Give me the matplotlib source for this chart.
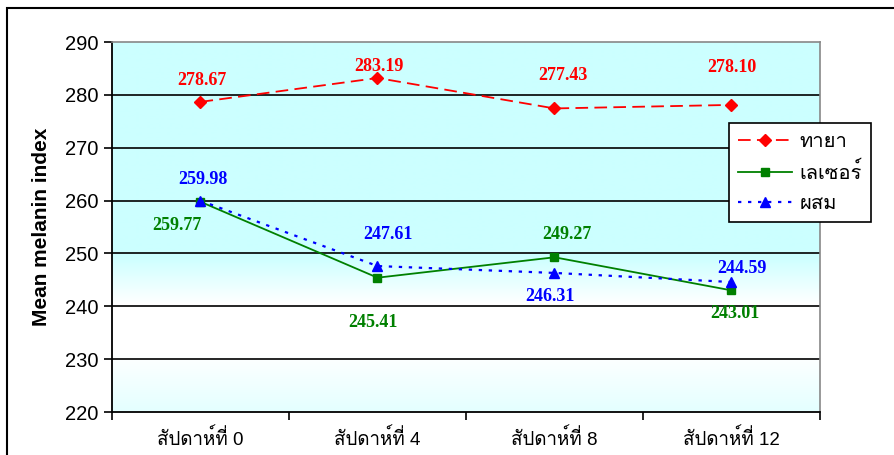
import matplotlib
matplotlib.use("Agg")
import matplotlib.pyplot as plt
from matplotlib import font_manager
from matplotlib.ft2font import FT2Font
from matplotlib.colors import to_rgb
from matplotlib.patches import Rectangle
import numpy as np

# ---- data ----
weeks = ["สัปดาห์ที่ 0", "สัปดาห์ที่ 4", "สัปดาห์ที่ 8", "สัปดาห์ที่ 12"]
series_names = ["ทายา", "เลเซอร์", "ผสม"]
drug = [278.67, 283.19, 277.43, 278.10]
laser = [259.77, 245.41, 249.27, 243.01]
mixed = [259.98, 247.61, 246.31, 244.59]
y_ticks = [220, 230, 240, 250, 260, 270, 280, 290]

# label offsets from each point, in pixels (dx right, dy up)
drug_off = [(1, 21), (1, 11), (8, 33), (0, 37)]
laser_off = [(-24, -24), (-5, -45), (12, 23), (3, -23)]
mixed_off = [(2, 21), (10, 32), (-5, -24), (10, 14)]

PREFERRED_THAI = ["Loma", "Waree", "Garuda", "Umpush", "Sawasdee",
                  "Noto Sans Thai", "Noto Sans Thai UI", "Norasi", "Kinnari"]


def find_thai_fonts():
    names = []
    for path in font_manager.findSystemFonts():
        try:
            f = FT2Font(path)
            cmap = f.get_charmap()
            if 0x0E17 in cmap and 0x0E2A in cmap:
                names.append(font_manager.FontProperties(fname=path).get_name())
        except Exception:
            pass
    names = list(dict.fromkeys(names))
    ranked = [n for n in PREFERRED_THAI if n in names]
    ranked += [n for n in names if n not in ranked and "Mono" not in n
               and "Typo" not in n and "Typist" not in n]
    ranked += [n for n in names if n not in ranked]
    return ranked


thai = find_thai_fonts()
thai_family = ["Liberation Sans"] + thai + ["DejaVu Sans"]

fig = plt.figure(figsize=(8.95, 4.55), dpi=100)
fig.patch.set_facecolor("white")
ax = fig.add_axes([112 / 895, 43 / 455, 708 / 895, 370 / 455])

# outer chart frame
fig.patches.append(Rectangle((7 / 895, -0.1), 1.2, (455 - 8) / 455 + 0.1,
                             transform=fig.transFigure, fill=False,
                             edgecolor="black", linewidth=1.5, zorder=0))

x = np.arange(len(weeks))
ax.set_xlim(-0.5, len(weeks) - 0.5)
ax.set_ylim(220, 290)

# plot-area gradient fill
ys = np.linspace(220, 290, 400)
stops_y = [220, 231, 240.5, 249.5, 290]
cyan = np.array(to_rgb("#CCFFFF"))
light = np.array(to_rgb("#E4FFFF"))
white = np.array([1.0, 1.0, 1.0])
stops_c = [light, white, white, cyan, cyan]
img = np.zeros((len(ys), 1, 3))
for ch in range(3):
    img[:, 0, ch] = np.interp(ys, stops_y, [c[ch] for c in stops_c])
ax.imshow(img, extent=[-0.5, len(weeks) - 0.5, 220, 290], origin="lower",
          aspect="auto", zorder=0, interpolation="bilinear")

for yv in y_ticks[1:-1]:
    ax.axhline(yv, color="black", linewidth=1.2, zorder=1)

l1, = ax.plot(x, drug, color="#FF0000", linestyle=(0, (7, 3.5)), linewidth=1.3,
              marker="D", markersize=6, label=series_names[0], zorder=3)
l2, = ax.plot(x, laser, color="#008000", linestyle="-", linewidth=1.3,
              marker="s", markersize=6, label=series_names[1], zorder=3)
l3, = ax.plot(x, mixed, color="#0000FF", linestyle=(0, (1.5, 3)), linewidth=1.6,
              marker="^", markersize=7, label=series_names[2], zorder=4)

lab_font = dict(family="Liberation Serif", weight="bold", fontsize=13)


def put_labels(vals, offs, color):
    for xi, v, (dx, dy) in zip(x, vals, offs):
        ax.annotate(f"{v:.2f}", (xi, v), xytext=(dx * 0.72, dy * 0.72),
                    textcoords="offset points", ha="center", va="center",
                    color=color, zorder=5, **lab_font)


put_labels(drug, drug_off, "#FF0000")
put_labels(laser, laser_off, "#008000")
put_labels(mixed, mixed_off, "#0000FF")

ax.set_yticks(y_ticks)
ax.set_yticklabels([str(v) for v in y_ticks], family="Liberation Sans", fontsize=14.5)
ax.set_xticks(np.arange(-0.5, len(weeks)), minor=False)
ax.set_xticklabels([])
ax.set_xticks(x, minor=True)
ax.set_xticklabels(weeks, minor=True, family=thai_family, fontsize=13.5)
ax.tick_params(axis="x", which="minor", length=0, pad=12)
ax.tick_params(axis="x", which="major", length=6, width=1.2, direction="out")
ax.tick_params(axis="y", length=6, width=1.2, direction="out", pad=4)

for side in ["top", "right"]:
    ax.spines[side].set_color("#888888")
    ax.spines[side].set_linewidth(1.2)
for side in ["left", "bottom"]:
    ax.spines[side].set_color("black")
    ax.spines[side].set_linewidth(1.3)

ax.set_ylabel("Mean melanin index", family="Liberation Sans", weight="bold",
              fontsize=15, labelpad=10)

leg = ax.legend(handles=[l1, l2, l3], loc="upper left",
                bbox_to_anchor=(617 / 708, (412 - 123) / 370),
                prop={"family": thai_family, "size": 14.5},
                frameon=True, fancybox=False, framealpha=1, edgecolor="black",
                handlelength=2.7, handletextpad=0.35, borderpad=0.45,
                labelspacing=0.55, borderaxespad=0)
leg.get_frame().set_linewidth(1.2)
leg.set_zorder(10)

fig.savefig("out.png", dpi=100)
